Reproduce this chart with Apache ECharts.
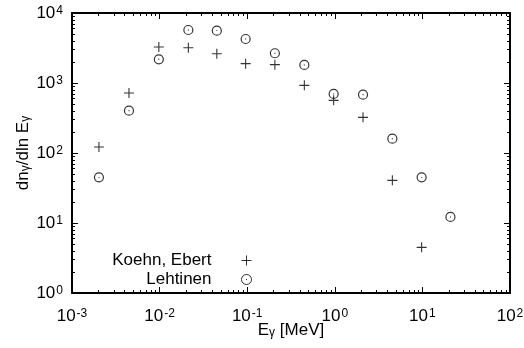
<!DOCTYPE html>
<html>
<head>
<meta charset="utf-8">
<script src="https://cdn.jsdelivr.net/npm/echarts@6/dist/echarts.min.js"></script>
<style>
html,body{margin:0;padding:0;background:#fff;}
#chart{width:524px;height:348px;}
</style>
</head>
<body>
<div id="chart"></div>
<script>
// Photon energy E_gamma [MeV]
const energies = [0.00203, 0.00447, 0.0098, 0.0213, 0.045, 0.096, 0.207, 0.449, 0.97, 2.1, 4.54, 9.8, 20.9];
// dn/dlnE, Koehn & Ebert (no value at the last energy)
const koehnEbert = [122, 720, 3270, 3190, 2620, 1890, 1830, 926, 565, 323, 40.7, 4.49];
// dn/dlnE, Lehtinen
const lehtinen = [44.9, 402, 2180, 5720, 5600, 4250, 2660, 1810, 697, 681, 160, 44.9, 12.2];
const seriesNames = ['Koehn, Ebert', 'Lehtinen'];
const xDecades = [0.001, 0.01, 0.1, 1, 10, 100];
const yDecades = [1, 10, 100, 1000, 10000];
const minorMultipliers = [2, 3, 4, 5, 6, 7, 8, 9];

const xMinor = [];
xDecades.slice(0, -1).forEach(d => minorMultipliers.forEach(m => xMinor.push(+(d * m).toPrecision(3))));
const yMinor = [];
yDecades.slice(0, -1).forEach(d => minorMultipliers.forEach(m => yMinor.push(+(d * m).toPrecision(3))));

const FONT = 'Liberation Sans, Arial, Helvetica, sans-serif';
const richLabel = {
  b: {fontSize: 17, fontFamily: FONT, color: '#000'},
  s: {fontSize: 12, fontFamily: FONT, color: '#000', verticalAlign: 'top', lineHeight: 12, padding: [0,0,0,1]}
};
function powLabel(v) {
  const e = Math.round(Math.log10(v));
  return '{b|10}{s|' + e + '}';
}
function axisBase(opts) {
  const isX = opts.isX;
  const a = {
    type: 'log', logBase: 10,
    position: opts.pos,
    min: isX ? xDecades[0] : yDecades[0],
    max: isX ? xDecades[xDecades.length - 1] : yDecades[yDecades.length - 1],
    axisLine: {show: opts.line, onZero: false, lineStyle: {color: '#000', width: 2}},
    axisTick: {show: true, inside: true, length: opts.minor ? 3 : 6, lineStyle: {color: '#000', width: 1}},
    minorTick: {show: false},
    splitLine: {show: false},
    axisLabel: {show: !!opts.label, formatter: powLabel, rich: richLabel, margin: isX ? 15 : 9},
  };
  if (opts.minor) {
    a.axisTick.customValues = isX ? xMinor : yMinor;
    a.axisLabel.show = false;
  }
  return a;
}
const xMain = axisBase({isX: true, pos: 'bottom', line: true, label: true});
xMain.name = '{n|E}{sub|γ}{n| [MeV]}';
xMain.nameLocation = 'middle';
xMain.nameMoveOverlap = false;
xMain.nameGap = 29;
xMain.nameTextStyle = {rich: {
  n: {fontSize: 17, fontFamily: FONT, color: '#000'},
  sub: {fontSize: 12, fontFamily: FONT, color: '#000', verticalAlign: 'bottom', lineHeight: 4}
}};
const yMain = axisBase({isX: false, pos: 'left', line: true, label: true});
yMain.name = '{n|dn}{sub|γ}{n|/dln E}{sub|γ}';
yMain.nameLocation = 'middle';
yMain.nameMoveOverlap = false;
yMain.nameRotate = 90;
yMain.nameGap = 40;
yMain.nameTextStyle = {rich: {
  n: {fontSize: 17, fontFamily: FONT, color: '#000'},
  sub: {fontSize: 12, fontFamily: FONT, color: '#000', verticalAlign: 'bottom', lineHeight: 4}
}};

const plusPath = 'path://M0,5L10,5M5,0L5,10';
const circDotPath = 'path://M9,5A4,4,0,1,1,1,5A4,4,0,1,1,9,5ZM5,4.6L5,5.4';

const chart = echarts.init(document.getElementById('chart'), null, {renderer: 'canvas'});
chart.setOption({
  animation: false,
  backgroundColor: '#fff',
  grid: {left: 72, right: 14, top: 13, bottom: 55, show: false, containLabel: false, outerBoundsMode: 'none'},
  xAxis: [
    xMain,
    axisBase({isX: true, pos: 'top', line: true}),
    axisBase({isX: true, pos: 'bottom', line: false, minor: true}),
    axisBase({isX: true, pos: 'top', line: false, minor: true})
  ],
  yAxis: [
    yMain,
    axisBase({isX: false, pos: 'right', line: true}),
    axisBase({isX: false, pos: 'left', line: false, minor: true}),
    axisBase({isX: false, pos: 'right', line: false, minor: true})
  ],
  legend: {
    orient: 'vertical',
    align: 'right',
    right: 272, top: 252,
    padding: 0,
    itemWidth: 60, itemHeight: 10, itemGap: 2,
    textStyle: {fontSize: 17, fontFamily: FONT, color: '#000', lineHeight: 16},
    itemStyle: {borderWidth: 1},
    data: seriesNames,
    selectedMode: false
  },
  series: [
    {
      name: seriesNames[0], type: 'scatter',
      data: koehnEbert.map((v, i) => [energies[i], v]),
      symbol: plusPath, symbolSize: 10,
      itemStyle: {color: 'rgba(0,0,0,0)', borderColor: '#000', borderWidth: 1.1},
      emphasis: {disabled: true}
    },
    {
      name: seriesNames[1], type: 'scatter',
      data: lehtinen.map((v, i) => [energies[i], v]),
      symbol: circDotPath, symbolSize: 9,
      itemStyle: {color: 'rgba(0,0,0,0)', borderColor: '#000', borderWidth: 1.2},
      emphasis: {disabled: true}
    }
  ]
});
</script>
</body>
</html>
